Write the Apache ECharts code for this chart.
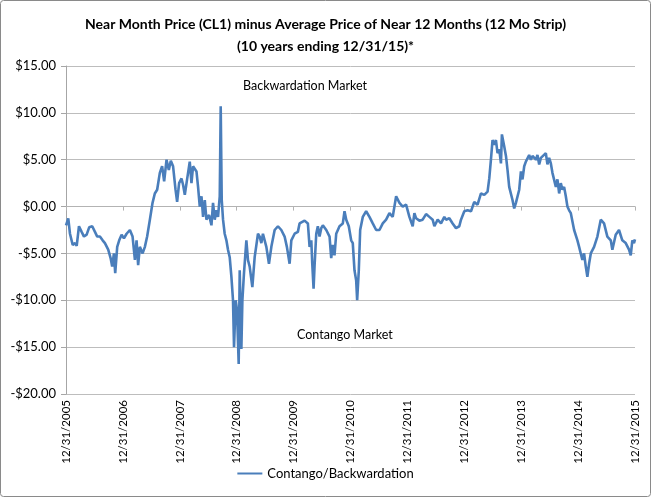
<!DOCTYPE html>
<html>
<head>
<meta charset="utf-8">
<script src="https://cdn.jsdelivr.net/npm/echarts@6/dist/echarts.min.js"></script>
<style>
  html, body { margin: 0; padding: 0; background: #fff; }
  #chart { width: 651px; height: 497px; }
</style>
</head>
<body>
<div id="chart"></div>
<script>
// years after 12/31/2005
var yearsSince = [
  0.000, 0.040, 0.070, 0.118, 0.158, 0.188, 0.228, 0.275, 0.316, 0.363,
  0.409, 0.461, 0.509, 0.549, 0.596, 0.644, 0.684, 0.742, 0.784, 0.812,
  0.842, 0.865, 0.900, 0.935, 0.977, 1.018, 1.065, 1.123, 1.170, 1.211,
  1.240, 1.268, 1.298, 1.346, 1.386, 1.426, 1.474, 1.521, 1.561, 1.602,
  1.649, 1.689, 1.725, 1.767, 1.807, 1.842, 1.882, 1.925, 1.953, 1.988,
  2.030, 2.058, 2.088, 2.128, 2.175, 2.205, 2.233, 2.293, 2.321, 2.351,
  2.381, 2.409, 2.439, 2.468, 2.514, 2.556, 2.584, 2.614, 2.644, 2.672,
  2.702, 2.719, 2.737, 2.760, 2.789, 2.819, 2.847, 2.877, 2.907, 2.935,
  2.953, 2.982, 3.005, 3.035, 3.053, 3.082, 3.100, 3.128, 3.170, 3.198,
  3.228, 3.275, 3.316, 3.374, 3.404, 3.433, 3.461, 3.521, 3.567, 3.609,
  3.667, 3.725, 3.784, 3.842, 3.882, 3.930, 3.960, 4.018, 4.075, 4.105,
  4.135, 4.193, 4.223, 4.251, 4.281, 4.311, 4.328, 4.351, 4.368, 4.398,
  4.426, 4.456, 4.486, 4.514, 4.574, 4.632, 4.661, 4.689, 4.719, 4.749,
  4.807, 4.865, 4.895, 4.925, 4.970, 5.012, 5.040, 5.070, 5.100, 5.117,
  5.146, 5.170, 5.216, 5.275, 5.304, 5.333, 5.391, 5.451, 5.509, 5.567,
  5.626, 5.684, 5.742, 5.802, 5.860, 5.918, 5.977, 6.035, 6.093, 6.123,
  6.153, 6.211, 6.268, 6.328, 6.386, 6.444, 6.474, 6.532, 6.591, 6.649,
  6.679, 6.737, 6.795, 6.854, 6.912, 6.942, 7.000, 7.058, 7.118, 7.175,
  7.233, 7.293, 7.351, 7.409, 7.439, 7.468, 7.496, 7.526, 7.556, 7.584,
  7.614, 7.644, 7.661, 7.702, 7.732, 7.760, 7.789, 7.847, 7.877, 7.907,
  7.965, 7.995, 8.023, 8.053, 8.082, 8.140, 8.170, 8.198, 8.258, 8.286,
  8.316, 8.346, 8.374, 8.433, 8.461, 8.491, 8.521, 8.549, 8.609, 8.637,
  8.667, 8.696, 8.725, 8.754, 8.784, 8.812, 8.842, 8.872, 8.930, 8.988,
  9.018, 9.075, 9.105, 9.135, 9.163, 9.193, 9.223, 9.281, 9.339, 9.398,
  9.456, 9.514, 9.574, 9.602, 9.661, 9.719, 9.777, 9.837, 9.895, 9.925,
  9.953, 9.982, 10.000
];

// near month minus 12 month strip, $
var spread = [
  -2.0, -1.25, -2.9, -4.1, -3.9, -4.2, -2.1, -2.7, -3.2, -3.0,
  -2.2, -2.1, -2.7, -3.2, -3.2, -3.6, -3.9, -4.6, -5.5, -6.4,
  -5.0, -7.1, -4.3, -3.6, -3.0, -3.4, -2.9, -2.5, -3.2, -5.7,
  -3.6, -6.25, -4.3, -5.0, -4.3, -3.2, -1.4, 0.4, 1.4, 1.8,
  3.6, 4.3, 2.7, 5.0, 3.9, 4.9, 4.3, 1.8, 0.5, 2.5,
  3.0, 2.3, 1.25, 2.9, 4.8, 2.5, 4.3, 3.75, 2.1, 0.0,
  1.1, -1.1, 0.7, -1.4, -0.9, -2.0, 0.4, -1.4, -0.4, -1.1,
  1.1, 10.7, 0.7, -1.4, -2.9, -3.6, -4.6, -5.4, -7.5, -10.0,
  -15.0, -10.0, -11.0, -16.8, -6.8, -15.2, -10.0, -7.1, -3.6, -5.7,
  -6.4, -8.6, -5.4, -2.9, -3.2, -3.9, -2.9, -4.3, -6.1, -4.3,
  -2.5, -2.1, -2.5, -3.2, -4.3, -6.1, -3.6, -2.9, -2.7, -1.8,
  -1.8, -1.5, -1.4, -1.8, -4.3, -3.6, -6.1, -8.75, -6.4, -2.9,
  -2.1, -3.2, -2.3, -2.0, -2.5, -3.2, -5.5, -4.1, -5.2, -2.9,
  -2.1, -1.8, -0.5, -1.4, -2.1, -3.6, -3.9, -6.8, -7.9, -10.0,
  -6.8, -2.5, -1.1, -0.5, -0.4, -1.1, -1.8, -2.5, -2.5, -1.8,
  -1.4, -0.7, -1.1, 1.1, 0.4, 0.0, 0.2, -1.1, -2.1, -0.7,
  -1.25, -1.5, -1.4, -0.8, -1.1, -1.4, -2.1, -1.4, -1.8, -1.1,
  -1.4, -1.25, -1.8, -2.3, -2.1, -1.4, -0.5, -0.4, -0.5, 0.5,
  0.2, 1.4, 1.25, 1.6, 3.0, 5.0, 7.1, 6.6, 7.1, 5.7,
  6.1, 4.6, 7.7, 6.4, 5.4, 3.9, 2.1, 0.7, -0.2, 0.4,
  1.8, 3.75, 2.9, 4.3, 4.8, 5.5, 5.0, 5.4, 5.0, 5.5,
  4.5, 5.2, 5.0, 5.7, 4.5, 5.2, 4.6, 3.6, 2.1, 2.9,
  1.4, 2.5, 1.8, 2.1, 1.1, 0.0, -0.4, -0.7, -2.5, -3.6,
  -4.3, -5.7, -5.0, -6.4, -7.5, -6.1, -5.0, -4.3, -3.2, -1.4,
  -1.8, -3.2, -3.6, -4.6, -3.0, -2.5, -3.6, -3.9, -4.6, -5.2,
  -3.6, -3.9, -3.5
];

var tickLabels = ['12/31/2005', '12/31/2006', '12/31/2007', '12/31/2008', '12/31/2009',
  '12/31/2010', '12/31/2011', '12/31/2012', '12/31/2013', '12/31/2014', '12/31/2015'];

var seriesName = 'Contango/Backwardation';
var FONT = 'Lato, "Liberation Sans", sans-serif';

var points = [];
for (var i = 0; i < spread.length; i++) {
  points.push([yearsSince[i], spread[i]]);
}

var chart = echarts.init(document.getElementById('chart'), null, { renderer: 'canvas' });

chart.setOption({
  animation: false,
  backgroundColor: '#fff',
  title: {
    text: 'Near Month Price (CL1) minus Average Price of Near 12 Months (12 Mo Strip)\n(10 years ending 12/31/15)*',
    left: 'center',
    top: 8,
    textStyle: { fontFamily: FONT, fontSize: 14, fontWeight: 'bold', color: '#000', lineHeight: 22 }
  },
  legend: {
    bottom: 12,
    left: 'center',
    icon: 'rect',
    itemWidth: 25,
    itemHeight: 2,
    itemGap: 6,
    textStyle: { fontFamily: FONT, fontSize: 13, color: '#000' },
    data: [seriesName]
  },
  grid: { left: 66, right: 16, top: 66, bottom: 103 },
  xAxis: [
    {
      type: 'value',
      min: 0,
      max: 10,
      interval: 1,
      axisLine: { onZero: true, lineStyle: { color: '#b3b3b3', width: 1 } },
      axisTick: { show: true, length: 4, lineStyle: { color: '#b3b3b3' } },
      axisLabel: { show: false },
      splitLine: { show: false }
    },
    {
      type: 'value',
      min: 0,
      max: 10,
      interval: 1,
      position: 'bottom',
      axisLine: { show: false, onZero: false },
      axisTick: { show: false },
      splitLine: { show: false },
      axisLabel: {
        rotate: 90,
        margin: 6,
        fontFamily: FONT,
        fontSize: 11.5,
        color: '#000',
        formatter: function (v) { return tickLabels[Math.round(v)]; }
      }
    }
  ],
  yAxis: {
    type: 'value',
    min: -20,
    max: 15,
    interval: 5,
    axisLine: { show: true, lineStyle: { color: '#a6a6a6' } },
    axisTick: { show: true, length: 5, lineStyle: { color: '#a6a6a6' } },
    axisLabel: {
      margin: 10,
      fontFamily: FONT,
      fontSize: 13,
      color: '#000',
      formatter: function (v) {
        return (v < 0 ? '-$' : '$') + Math.abs(v).toFixed(2);
      }
    },
    splitLine: { show: true, lineStyle: { color: '#bdbdbd', width: 1 } }
  },
  series: [
    {
      name: seriesName,
      type: 'line',
      xAxisIndex: 0,
      data: points,
      showSymbol: false,
      symbol: 'none',
      lineStyle: { color: '#4a7ebb', width: 2.6 },
      itemStyle: { color: '#4a7ebb' }
    }
  ],
  graphic: [
    {
      type: 'rect',
      shape: { x: 0.5, y: 0.5, width: 650, height: 496, r: 3 },
      style: { fill: 'none', stroke: '#8a8a8a', lineWidth: 1 },
      silent: true
    },
    {
      type: 'text',
      left: 243,
      top: 79,
      style: { text: 'Backwardation Market', font: '12.5px ' + FONT, fill: '#000' }
    },
    {
      type: 'text',
      left: 297,
      top: 328,
      style: { text: 'Contango Market', font: '12.5px ' + FONT, fill: '#000' }
    }
  ]
});
</script>
</body>
</html>
